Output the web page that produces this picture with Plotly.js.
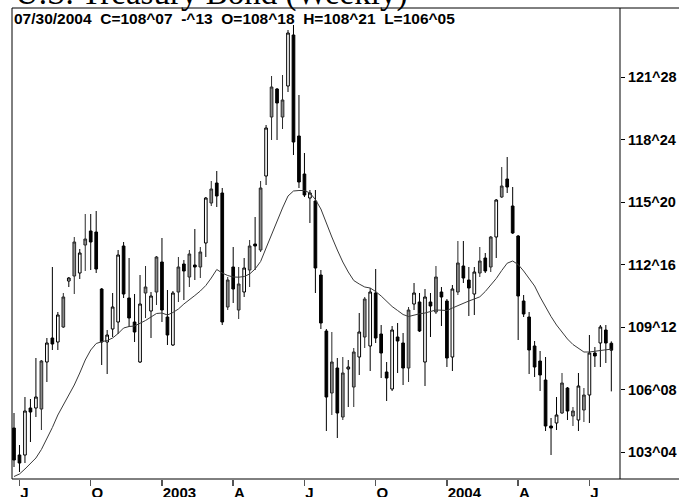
<!DOCTYPE html>
<html>
<head>
<meta charset="utf-8">
<script src="https://cdn.plot.ly/plotly-3.0.1.min.js"></script>
<style>
html,body{margin:0;padding:0;background:#fff;}
#chart{width:679px;height:497px;}
</style>
</head>
<body>
<div id="chart"></div>
<script>
// Weekly bars, week ending Friday, first bar 2002-06-28, last bar 2004-07-30
const firstBar = "2002-06-28";
const barCount = 110;

const opens = [
104.325,102.975,102.975,105.325,105.325,105.275,107.625,108.825,108.625,109.375,
111.675,111.925,112.075,113.475,114.175,114.125,111.275,108.625,109.275,109.625,
113.425,110.825,109.625,107.625,111.075,110.175,111.125,112.625,109.875,108.475,
111.125,112.525,111.875,112.475,112.375,113.575,115.575,116.575,116.075,110.375,
112.375,110.225,111.125,112.225,113.525,113.225,116.925,119.875,121.275,119.875,
121.425,123.975,118.925,117.025,115.825,115.675,111.975,109.175,106.075,107.325,
104.875,107.275,106.375,107.875,108.875,108.425,111.075,109.025,107.125,106.275,
108.875,108.575,107.325,110.525,110.625,107.625,110.625,110.125,111.125,110.675,
107.875,111.125,112.425,111.725,111.025,112.075,112.825,112.375,113.875,115.875,
116.775,115.425,113.925,110.675,109.875,108.425,107.675,106.725,104.425,104.575,
105.075,106.325,104.925,104.725,105.225,105.975,108.075,108.575,109.225,108.5625];

const highs = [
105.075,103.475,105.875,105.775,107.825,107.725,108.825,112.375,110.125,111.075,
111.875,113.875,113.275,115.025,115.025,115.175,111.325,109.225,111.075,113.225,
113.625,112.825,111.025,111.975,112.425,111.125,112.925,113.825,111.225,111.175,
112.875,112.725,113.225,114.275,113.375,115.875,116.675,117.175,116.325,111.875,
113.375,112.375,112.825,113.725,114.875,116.675,119.475,121.925,121.325,121.975,
124.225,124.475,120.975,118.075,116.225,116.225,112.225,109.275,109.125,107.825,
107.875,107.725,108.325,110.075,110.875,111.325,112.275,109.475,107.625,109.425,
109.575,109.075,110.375,111.575,111.075,111.275,111.075,112.425,111.375,110.775,
111.475,113.675,113.675,112.375,112.375,113.375,113.075,113.925,115.775,117.375,
117.875,116.375,113.975,110.975,110.125,108.675,108.175,107.875,104.825,105.875,
107.075,106.375,105.375,107.075,106.325,108.975,108.375,109.475,109.475,108.65625];

const lows = [
102.375,102.125,102.575,103.625,104.875,104.225,106.625,108.225,108.225,109.325,
111.375,111.025,111.775,112.175,112.225,112.075,107.475,107.025,108.875,109.025,
110.825,109.375,108.625,107.575,109.825,108.825,110.475,109.625,108.475,108.425,
110.625,110.725,111.375,111.725,111.825,112.875,115.425,115.375,109.475,110.225,
110.575,109.775,110.875,111.375,112.225,113.125,116.475,118.725,118.725,119.275,
121.125,117.975,116.325,115.875,114.575,111.075,109.275,104.175,104.975,103.825,
104.725,105.375,105.375,106.975,108.325,107.175,108.575,106.825,105.675,106.175,
107.075,106.475,106.625,110.225,109.125,106.425,108.875,110.025,109.425,107.375,
107.175,110.975,111.575,109.925,109.975,111.875,112.075,112.125,112.825,115.825,
116.075,114.025,108.725,109.875,107.025,106.875,106.175,104.175,102.975,104.225,
105.025,104.725,104.425,104.175,104.625,104.575,107.375,107.375,107.575,106.15625];

const closes = [
102.725,102.575,105.175,105.125,105.875,107.675,108.575,108.525,109.975,110.875,
111.825,113.625,113.075,113.775,113.625,112.275,108.625,108.975,110.375,112.975,
111.025,109.825,109.125,110.525,111.375,110.925,112.875,110.225,108.975,111.075,
112.375,112.175,113.025,112.375,113.125,115.825,116.275,115.925,109.625,111.725,
111.275,111.525,112.325,113.425,113.425,116.325,119.325,121.375,120.575,120.725,
124.075,118.625,116.625,115.975,116.075,112.325,109.575,105.875,107.625,105.075,
107.075,107.375,108.125,109.125,110.775,111.125,108.825,108.075,106.825,109.225,
108.675,107.325,110.225,111.075,109.175,110.875,110.425,111.875,110.875,107.825,
111.275,112.575,111.825,111.325,112.125,112.675,112.175,113.875,115.725,116.425,
116.375,114.075,110.925,110.025,108.225,107.375,106.975,104.425,104.325,104.975,
106.575,105.175,105.175,106.425,105.975,108.075,107.925,109.375,108.575,108.21875];

// candle tone as drawn: W = hollow, B = black, G = gray
const tones = "BBWBWGWBWGWGWGBBBWWWBBBWGWGBBWGBGBGWGBBGBGWGBGWGBGWBBBWBBBGBGWGWGWBBBWBBGWBWBGBBWGBBWGBGWGBBBBBBBBBWGBGWGWBWBB";

const movingAvg = [
101.9,102.025,102.275,102.575,102.825,103.25,103.775,104.35,104.975,105.475,
105.975,106.475,107.075,107.725,108.225,108.55,108.64,108.7,108.825,109.05,
109.325,109.4,109.425,109.55,109.7,109.875,110.05,110.075,109.975,110.1,
110.275,110.525,110.725,110.95,111.175,111.45,111.825,112.25,112.075,111.95,
111.875,111.865,111.9,112.025,112.275,112.65,113.325,114.025,114.675,115.325,
115.925,116.175,116.2,116.2,116.075,115.75,115.275,114.55,113.875,113.225,
112.625,112.125,111.7,111.525,111.375,111.325,111.15,110.925,110.65,110.4,
110.2,110.0,109.9,109.975,110.035,110.075,110.15,110.225,110.215,110.2,
110.325,110.45,110.575,110.675,110.775,110.885,111.15,111.45,111.8,112.2,
112.565,112.675,112.5,112.175,111.825,111.425,110.875,110.35,109.9,109.475,
109.1,108.775,108.5,108.3,108.125,108.125,108.175,108.2,108.235,108.265];

const xTickDates = ["2002-07-05","2002-10-04","2003-01-03","2003-04-04","2003-07-04","2003-10-03","2004-01-02","2004-04-02","2004-07-02"];
const xTickText = ["J","O","2003","A","J","O","2004","A","J"];
const yTickVals = [103.125,106.25,109.375,112.5,115.625,118.75,121.875];
const yTickText = ["103^04","106^08","109^12","112^16","115^20","118^24","121^28"];
const headerText = "07/30/2004  C=108^07  -^13  O=108^18  H=108^21  L=106^05";
const titleText = "U.S. Treasury Bond (Weekly)";

const DAY = 864e5;
const t0 = Date.parse(firstBar + "T00:00:00Z");
const dates = [];
for (let i = 0; i < barCount; i++) dates.push(new Date(t0 + i * 7 * DAY).toISOString().slice(0, 10));

function fmt(ms) { return new Date(ms).toISOString().replace("T", " ").slice(0, 19); }
const pxPerDay = 5.48 / 7;
const xStart = t0 - (2 / pxPerDay) * DAY;
const xEnd = xStart + (607 / pxPerDay) * DAY;

function group(code) {
  const g = {x: [], open: [], high: [], low: [], close: []};
  for (let i = 0; i < barCount; i++) {
    if (tones[i] !== code) continue;
    g.x.push(dates[i]); g.open.push(opens[i]); g.high.push(highs[i]);
    g.low.push(lows[i]); g.close.push(closes[i]);
  }
  return g;
}
function candleTrace(code, fill, lineCol) {
  const g = group(code);
  const style = {fillcolor: fill, line: {color: lineCol, width: 1}};
  return Object.assign({type: "candlestick", xaxis: "x", yaxis: "y", whiskerwidth: 0,
    increasing: style, decreasing: style, hoverinfo: "skip", showlegend: false}, g);
}

const data = [
  candleTrace("W", "#ffffff", "#000000"),
  candleTrace("G", "#8a8a8a", "#2a2a2a"),
  candleTrace("B", "#000000", "#000000"),
  {type: "scatter", mode: "lines", x: dates, y: movingAvg, line: {color: "#3a3a3a", width: 1}, hoverinfo: "skip", showlegend: false}
];

const tf = {family: "Liberation Sans, Arial, sans-serif", size: 14.5, color: "#000", weight: "bold"};
const layout = {
  width: 679, height: 497,
  margin: {l: 12, r: 60, t: 8, b: 18, pad: 0},
  paper_bgcolor: "#fff", plot_bgcolor: "#fff",
  showlegend: false,
  xaxis: {
    type: "date", range: [fmt(xStart), fmt(xEnd)],
    rangeslider: {visible: false},
    showgrid: false, zeroline: false, showline: false,
    tickmode: "array", tickvals: xTickDates, ticktext: xTickText,
    ticks: "outside", ticklen: 6, tickwidth: 1.5, tickcolor: "#555",
    ticklabelposition: "outside right",
    tickfont: {family: "Liberation Sans, Arial, sans-serif", size: 15, color: "#000", weight: "bold"}, fixedrange: true
  },
  yaxis: {
    side: "right", range: [101.775, 125.325],
    showgrid: false, zeroline: false,
    showline: true, linecolor: "#808080", linewidth: 2,
    tickmode: "array", tickvals: yTickVals, ticktext: yTickText,
    ticks: "outside", ticklen: 4, tickwidth: 1, tickcolor: "#000",
    tickfont: tf, fixedrange: true
  },
  shapes: [
    {type: "line", xref: "paper", yref: "paper", x0: 0, x1: 1.1, y0: 1, y1: 1, line: {color: "#000", width: 1}},
    {type: "line", xref: "paper", yref: "paper", x0: 0, x1: 1.1, y0: 0, y1: 0, line: {color: "#000", width: 1}},
    {type: "line", xref: "paper", yref: "paper", x0: 0, x1: 0, y0: 0, y1: 1, line: {color: "#000", width: 1}}
  ],
  annotations: [
    {xref: "paper", yref: "paper", x: 0, y: 1, xanchor: "left", yanchor: "top", xshift: 0, yshift: 0,
     text: headerText, showarrow: false, font: {family: "Liberation Sans, Arial, sans-serif", size: 15.5, color: "#000", weight: "bold"}},
    {xref: "paper", yref: "paper", x: 0, y: 1, xanchor: "left", yanchor: "bottom", xshift: 1, yshift: -6,
     text: titleText, showarrow: false, font: {family: "Liberation Serif, Times New Roman, serif", size: 33, color: "#000"}}
  ]
};

Plotly.newPlot("chart", data, layout, {staticPlot: true, displayModeBar: false});
</script>
</body>
</html>
